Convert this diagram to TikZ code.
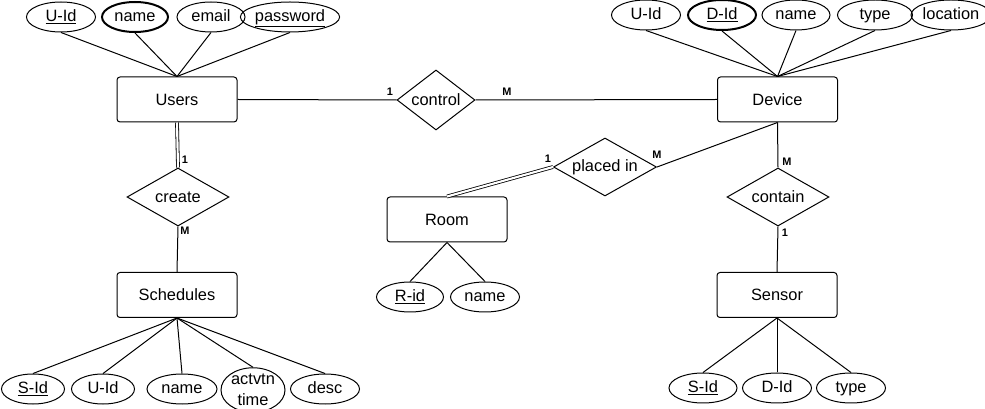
\documentclass[tikz,border=0pt]{standalone}
\usepackage{fontspec}
\setmainfont{Liberation Sans}
\usetikzlibrary{shapes.geometric}
\newdimen\px \px=0.75pt
\tikzset{
  ent/.style={draw, rounded corners=3\px, minimum width=120\px, minimum height=45\px, inner sep=0pt, font=\fontsize{12.3}{14}\selectfont},
  attrbase/.style={draw, ellipse, minimum width=68\px, minimum height=30\px, inner sep=0pt, font=\fontsize{12.3}{14}\selectfont},
  attr/.style={attrbase, text height=8.9pt, text depth=2.3pt},
  rel/.style={draw, diamond, aspect=1.75, inner sep=0pt, minimum width=102\px, minimum height=58\px, font=\fontsize{12.3}{14}\selectfont},
  card/.style={font=\fontsize{8.2}{9}\selectfont\bfseries, inner sep=0pt},
  dbl/.style={double, double distance=1.6pt, line width=0.6pt},
}
\begin{document}
\begin{tikzpicture}[x=1\px, y=-1\px, line width=0.75pt]
\useasboundingbox (0,0) rectangle (985,409);
% entities
\node[ent] (users) at (177,99.5) {Users};
\node[ent] (device) at (777.5,99.5) {Device};
\node[ent] (sched) at (177,295) {Schedules};
\node[ent] (room) at (447,219.5) {Room};
\node[ent] (sensor) at (777,295) {Sensor};
% relationships
\node[rel, minimum width=78\px, minimum height=60\px] (control) at (436,100) {control};
\node[rel] (create) at (178,197) {create};
\node[rel, minimum width=103\px] (placed) at (605,167) {placed in};
\node[rel] (contain) at (778,197) {contain};
% users attrs
\node[attr, minimum width=69\px] (u1) at (61,17) {\underline{U-Id}};
\node[attr, minimum width=66\px, line width=1.5pt] (u2) at (135,17) {name};
\node[attr] (u3) at (211,17) {email};
\node[attr, minimum width=74\px] (u4) at (290,17) {\underline{password}};
% device attrs
\node[attr, minimum width=69\px] (d1) at (646,15) {U-Id};
\node[attr, line width=1.5pt] (d2) at (722,15) {\underline{D-Id}};
\node[attr] (d3) at (796,15) {name};
\node[attr, minimum width=75\px] (d4) at (875,15) {type};
\node[attr, minimum width=66\px] (d5) at (951,15) {location};
% schedule attrs
\node[attr, minimum width=63\px] (s1) at (33,389) {\underline{S-Id}};
\node[attr, minimum width=63\px] (s2) at (103,389) {U-Id};
\node[attr, minimum width=70\px] (s3) at (182,389) {name};
\node[attrbase, minimum width=64\px, minimum height=40\px, align=center, font=\fontsize{12.3}{15.5}\selectfont] (s4) at (253,390) {actvtn\\time};
\node[attr, minimum width=69\px] (s5) at (325,389) {desc};
% room attrs
\node[attr, minimum width=67\px] (r1) at (410,297) {\underline{R-id}};
\node[attr, minimum width=69\px] (r2) at (485,297) {name};
% sensor attrs
\node[attr] (n1) at (703,388) {\underline{S-Id}};
\node[attr, minimum width=69\px] (n2) at (777,388) {D-Id};
\node[attr, minimum width=69\px] (n3) at (851,388) {type};
% attribute lines
\foreach \a in {u1,u2,u3,u4} \draw (\a.south) -- (users.north);
\foreach \a in {d1,d2,d3,d4,d5} \draw (\a.south) -- (device.north);
\foreach \a in {s1,s2,s3,s4,s5} \draw (\a.north) -- (sched.south);
\foreach \a in {r1,r2} \draw (\a.north) -- (room.south);
\foreach \a in {n1,n2,n3} \draw (\a.north) -- (sensor.south);
% relationship lines
\draw (users.east) -- (control.west);
\draw (control.east) -- (device.west);
\draw[dbl] (users.south) -- (create.north);
\draw (create.south) -- (sched.north);
\draw[dbl] (room.north) -- (placed.west);
\draw (placed.east) -- (device.south);
\draw (device.south) -- (contain.north);
\draw (contain.south) -- (sensor.north);
% cardinalities
\node[card] (c1) at (390,92) {1};
\node[card] (c2) at (507,92) {M};
\node[card] (c3) at (185,160) {1};
\node[card] (c4) at (185,231) {M};
\node[card] (c5) at (548,159) {1};
\node[card] (c6) at (657,155) {M};
\node[card] (c7) at (787,162) {M};
\node[card] (c8) at (785,233) {1};
\end{tikzpicture}
\end{document}
